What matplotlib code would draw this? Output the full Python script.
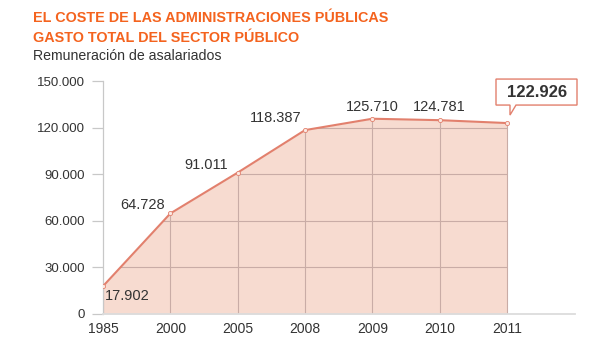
import matplotlib
matplotlib.use("Agg")
import matplotlib.pyplot as plt
import numpy as np
from matplotlib.patches import Polygon
from matplotlib.transforms import ScaledTranslation, Affine2D

years = ["1985", "2000", "2005", "2008", "2009", "2010", "2011"]
values = [17902, 64728, 91011, 118387, 125710, 124781, 122926]
labels = ["17.902", "64.728", "91.011", "118.387", "125.710", "124.781", "122.926"]
yticks = [0, 30000, 60000, 90000, 120000, 150000]
ytick_labels = ["0", "30.000", "60.000", "90.000", "120.000", "150.000"]

title1 = "EL COSTE DE LAS ADMINISTRACIONES PÚBLICAS"
title2 = "GASTO TOTAL DEL SECTOR PÚBLICO"
subtitle = "Remuneración de asalariados"

plt.rcParams['font.family'] = ['Liberation Sans', 'DejaVu Sans']

W, H = 589, 342
fig = plt.figure(figsize=(W / 100, H / 100), dpi=100)
left_px, right_px, bottom_px, top_px = 103, 575, 314, 81
ax = fig.add_axes([left_px / W, 1 - bottom_px / H, (right_px - left_px) / W, (bottom_px - top_px) / H])

x = np.arange(len(years))
ax.set_xlim(0, (right_px - left_px) / ((507 - 103) / 6))
ax.set_ylim(0, 150000)

line_c = "#e2806d"
fill_c = "#f7dbd0"
grid_c = "#c9aca6"

fill = ax.fill_between(x, values, 0, color=fill_c, lw=0, zorder=1)
clip_path = fill.get_paths()[0]
for yt in yticks[1:-1]:
    hl = ax.axhline(yt, color=grid_c, lw=0.8, zorder=2)
    hl.set_clip_path(clip_path, ax.transData)
for xi, v in zip(x, values):
    ax.plot([xi, xi], [0, v], color=grid_c, lw=0.8, zorder=2)

ax.plot(x, values, color=line_c, lw=1.5, zorder=3, marker='o', ms=3,
        mfc="#fbe9e3", mec=line_c, mew=0.6)

for s in ["top", "right"]:
    ax.spines[s].set_visible(False)
ax.spines["left"].set_color("#c8c8c8")
ax.spines["left"].set_linewidth(0.9)
ax.spines["bottom"].set_color("#dcdcdc")
ax.spines["bottom"].set_linewidth(1.3)

ax.set_yticks(yticks)
ax.set_yticklabels(ytick_labels)
ax.tick_params(axis='y', length=8, width=0.9, color="#c8c8c8", pad=5,
               labelsize=9.5, labelcolor="#333333")
ax.set_xticks(x)
ax.set_xticklabels(years)
ax.tick_params(axis='x', length=0, pad=6, labelsize=10, labelcolor="#333333")

# data labels (offsets in pixels)
offsets = [(2, -10, 'left'), (-28, 8, 'center'), (-31, 8, 'center'),
           (-29, 12, 'center'), (0, 12, 'center'), (0, 13, 'center')]
for i, (dx, dy, ha) in enumerate(offsets):
    ax.annotate(labels[i], (x[i], values[i]), xytext=(dx, dy),
                textcoords='offset pixels', ha=ha, va='center',
                fontsize=10.5, color="#333333", zorder=5)

# callout for last value
trans = Affine2D() + ScaledTranslation(x[-1], values[-1], ax.transData)
verts = [(-11, 18), (3, 18), (3, 8), (9, 18), (70, 18), (70, 44), (-11, 44)]
callout = Polygon(verts, closed=True, facecolor="white", edgecolor=line_c,
                  lw=1.0, transform=trans, zorder=6, clip_on=False)
ax.add_patch(callout)
ax.annotate(labels[-1], (x[-1], values[-1]), xytext=(30, 31),
            textcoords='offset pixels', ha='center', va='center',
            fontsize=12, fontweight='bold', color="#333333", zorder=7)

fig.text(33 / W, 1 - 18 / H, title1, fontsize=10.4, fontweight='bold',
         color="#f4631e", ha='left', va='center')
fig.text(33 / W, 1 - 38 / H, title2, fontsize=10.4, fontweight='bold',
         color="#f4631e", ha='left', va='center')
fig.text(33 / W, 1 - 56 / H, subtitle, fontsize=10.2,
         color="#333333", ha='left', va='center')

fig.savefig("out.png", dpi=100)
